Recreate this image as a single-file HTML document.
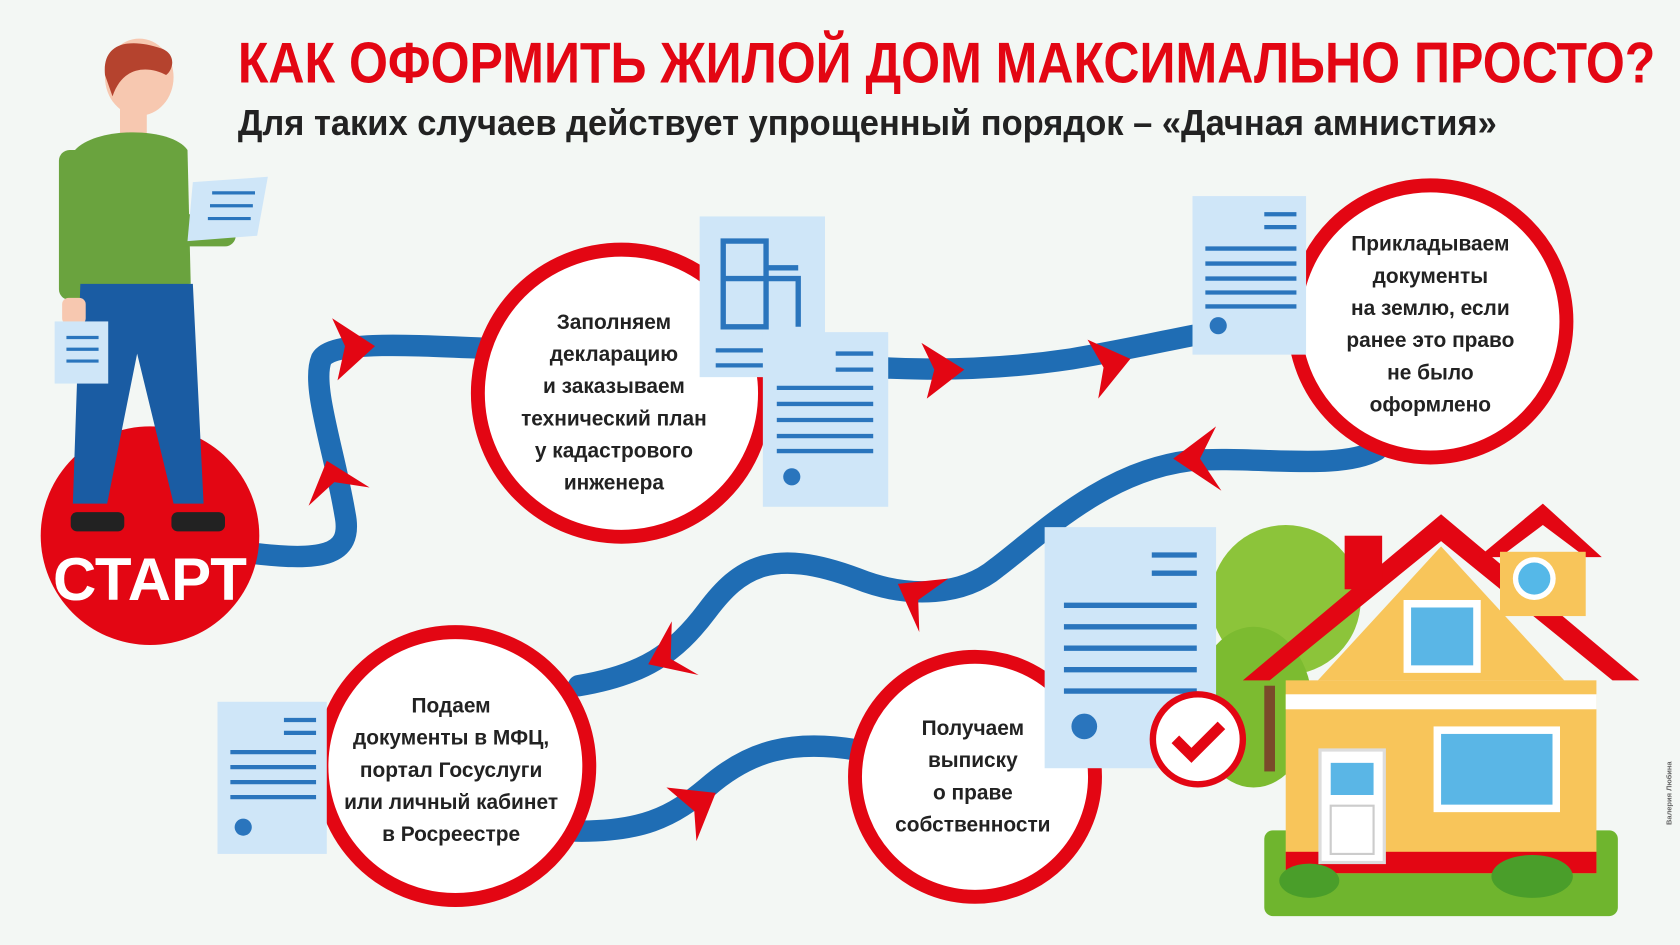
<!DOCTYPE html>
<html><head><meta charset="utf-8"><style>
html,body{margin:0;padding:0;background:#f3f7f4;}
svg{display:block}
text{font-family:"Liberation Sans Narrow","Liberation Sans","Noto Sans CJK SC",sans-serif;font-weight:bold}
</style></head><body>
<svg width="1680" height="945" viewBox="0 0 1568 882" preserveAspectRatio="none" xmlns="http://www.w3.org/2000/svg">
<rect width="1568" height="882" fill="#f3f7f4"/>
<text x="222" y="77" font-size="54" fill="#e30613" textLength="1323" lengthAdjust="spacingAndGlyphs">КАК ОФОРМИТЬ ЖИЛОЙ ДОМ МАКСИМАЛЬНО ПРОСТО?</text>
<text x="222" y="126" font-size="34" fill="#222" textLength="1175" lengthAdjust="spacingAndGlyphs">Для таких случаев действует упрощенный порядок – «Дачная амнистия»</text>

<g fill="none" stroke="#1f6db4" stroke-width="20" stroke-linecap="round">
<path d="M225,515 C300,525 330,520 322,480 C312,420 290,360 300,335 C310,318 380,322 450,325"/>
<path d="M715,335 C820,345 900,350 1000,335 C1060,325 1100,315 1130,310"/>
<path d="M1285,420 C1250,440 1170,425 1110,430 C1030,440 970,500 930,530 C900,555 850,560 800,540 C720,510 690,530 660,570 C630,610 600,630 540,640"/>
<path d="M520,775 C600,780 630,760 660,735 C700,700 740,690 800,700"/>
</g>
<g fill="#e30613">
<polygon points="310,297 350,323 315,355 322,323"/>
<polygon points="288,472 305,430 345,455 312,450"/>
<polygon points="860,320 900,345 865,372 872,345"/>
<polygon points="1015,317 1055,335 1025,372 1030,343"/>
<polygon points="1135,398 1095,428 1140,458 1120,428"/>
<polygon points="885,540 838,545 858,590 857,560"/>
<polygon points="627,580 605,620 652,630 626,615"/>
<polygon points="622,735 668,740 650,785 648,757"/>
</g>

<circle cx="140" cy="500" r="102" fill="#e30613"/>
<text x="140" y="560" font-size="56" fill="#fff" text-anchor="middle">СТАРТ</text>

<g fill="#fff" stroke="#e30613" stroke-width="13">
<circle cx="580" cy="367" r="134"/>
<circle cx="1335" cy="300" r="127"/>
<circle cx="425" cy="715" r="125"/>
<circle cx="910" cy="725" r="112"/>
</g>

<g>
<rect x="653" y="202" width="117" height="150" fill="#cfe6f8"/>
<path d="M675,225 h40 v80 h-40 z M675,260 h70 v45 M715,250 h30" fill="none" stroke="#2a75bd" stroke-width="5"/>
<path d="M668,327 h90 M668,341 h90" stroke="#2a75bd" stroke-width="4"/>
<rect x="712" y="310" width="117" height="163" fill="#cfe6f8"/>
<path d="M780,330 h35 M780,345 h35 M725,362 h90 M725,377 h90 M725,392 h90 M725,407 h90 M725,421 h90" stroke="#2a75bd" stroke-width="4"/>
<circle cx="739" cy="445" r="8" fill="#2a75bd"/>
<rect x="1113" y="183" width="106" height="148" fill="#cfe6f8"/>
<path d="M1180,200 h30 M1180,212 h30 M1125,232 h85 M1125,246 h85 M1125,260 h85 M1125,273 h85 M1125,286 h85" stroke="#2a75bd" stroke-width="4"/>
<circle cx="1137" cy="304" r="8" fill="#2a75bd"/>
<rect x="203" y="655" width="102" height="142" fill="#cfe6f8"/>
<path d="M265,672 h30 M265,684 h30 M215,702 h80 M215,716 h80 M215,730 h80 M215,744 h80" stroke="#2a75bd" stroke-width="4"/>
<circle cx="227" cy="772" r="8" fill="#2a75bd"/>
</g>

<ellipse cx="1200" cy="560" rx="70" ry="70" fill="#8cc43a"/>
<ellipse cx="1170" cy="660" rx="55" ry="75" fill="#7cbb30"/>
<rect x="1180" y="640" width="10" height="80" fill="#7a4a2a"/>
<rect x="1180" y="775" width="330" height="80" rx="8" fill="#6fb52e"/>
<rect x="1200" y="635" width="290" height="180" fill="#f8c55a"/>
<rect x="1200" y="795" width="290" height="20" fill="#e30613"/>
<polygon points="1230,635 1460,635 1345,510" fill="#f8c55a"/>
<polygon points="1160,635 1345,480 1530,635 1505,635 1345,505 1185,635" fill="#e30613"/>
<rect x="1255" y="500" width="35" height="50" fill="#e30613"/>
<polygon points="1380,520 1440,470 1495,520 1480,520 1440,490 1400,520" fill="#e30613"/>
<rect x="1400" y="515" width="80" height="60" fill="#f8c55a"/>
<circle cx="1432" cy="540" r="20" fill="#fff"/><circle cx="1432" cy="540" r="15" fill="#55b8e8"/>
<rect x="1310" y="560" width="72" height="68" fill="#fff"/><rect x="1317" y="567" width="58" height="54" fill="#5ab6e6"/>
<rect x="1200" y="648" width="290" height="14" fill="#fff"/>
<rect x="1338" y="678" width="118" height="80" fill="#fff"/><rect x="1345" y="685" width="104" height="66" fill="#5ab6e6"/>
<rect x="1232" y="700" width="60" height="105" fill="#fff" stroke="#ddd" stroke-width="3"/>
<rect x="1242" y="712" width="40" height="30" fill="#5ab6e6"/>
<rect x="1242" y="752" width="40" height="45" fill="none" stroke="#ccc" stroke-width="2"/>
<ellipse cx="1222" cy="822" rx="28" ry="16" fill="#4a9e2a"/>
<ellipse cx="1430" cy="818" rx="38" ry="20" fill="#4a9e2a"/>

<rect x="975" y="492" width="160" height="225" fill="#cfe6f8"/>
<path d="M1075,518 h42 M1075,535 h42 M993,565 h124 M993,585 h124 M993,605 h124 M993,625 h124 M993,645 h124" stroke="#2a75bd" stroke-width="5"/>
<circle cx="1012" cy="678" r="12" fill="#2a75bd"/>
<circle cx="1118" cy="690" r="42" fill="#fff" stroke="#e30613" stroke-width="6"/>
<path d="M1097,690 l15,15 l28,-28" fill="none" stroke="#e30613" stroke-width="10"/>

<ellipse cx="130" cy="72" rx="32" ry="36" fill="#f7c8b0"/>
<path d="M98,70 C95,40 120,35 150,45 C165,50 162,65 155,70 C140,62 115,60 105,90 z" fill="#b5432e"/>
<rect x="112" y="100" width="25" height="25" fill="#f7c8b0"/>
<path d="M70,140 C90,118 160,118 175,140 L178,265 L70,270 z" fill="#6aa33e"/>
<rect x="55" y="140" width="28" height="140" rx="10" fill="#6aa33e"/>
<rect x="160" y="200" width="60" height="30" rx="10" fill="#6aa33e"/>
<path d="M75,265 L180,265 L190,470 L162,470 L128,330 L100,470 L68,470 z" fill="#1a5ca3"/>
<rect x="66" y="478" width="50" height="18" rx="6" fill="#222"/>
<rect x="160" y="478" width="50" height="18" rx="6" fill="#222"/>
<rect x="58" y="278" width="22" height="25" rx="6" fill="#f7c8b0"/>
<rect x="51" y="300" width="50" height="58" fill="#cfe6f8"/>
<path d="M62,315 h30 M62,326 h30 M62,337 h30" stroke="#2a75bd" stroke-width="3"/>
<polygon points="180,170 250,165 240,220 175,225" fill="#cfe6f8"/>
<path d="M198,180 h40 M196,192 h40 M194,204 h40" stroke="#2a75bd" stroke-width="3"/>

<g font-size="19.5" fill="#222" text-anchor="middle">
<text x="573" y="307">Заполняем</text><text x="573" y="337">декларацию</text><text x="573" y="367">и заказываем</text><text x="573" y="397">технический план</text><text x="573" y="427">у кадастрового</text><text x="573" y="457">инженера</text>
<text x="1335" y="234">Прикладываем</text><text x="1335" y="264">документы</text><text x="1335" y="294">на землю, если</text><text x="1335" y="324">ранее это право</text><text x="1335" y="354">не было</text><text x="1335" y="384">оформлено</text>
<text x="421" y="665">Подаем</text><text x="421" y="695">документы в МФЦ,</text><text x="421" y="725">портал Госуслуги</text><text x="421" y="755">или личный кабинет</text><text x="421" y="785">в Росреестре</text>
<text x="908" y="686">Получаем</text><text x="908" y="716">выписку</text><text x="908" y="746">о праве</text><text x="908" y="776">собственности</text>
</g>
<text x="1560" y="770" font-size="7" fill="#666" transform="rotate(-90 1560 770)" font-weight="normal">Валерия Любина</text>
</svg>
</body></html>
